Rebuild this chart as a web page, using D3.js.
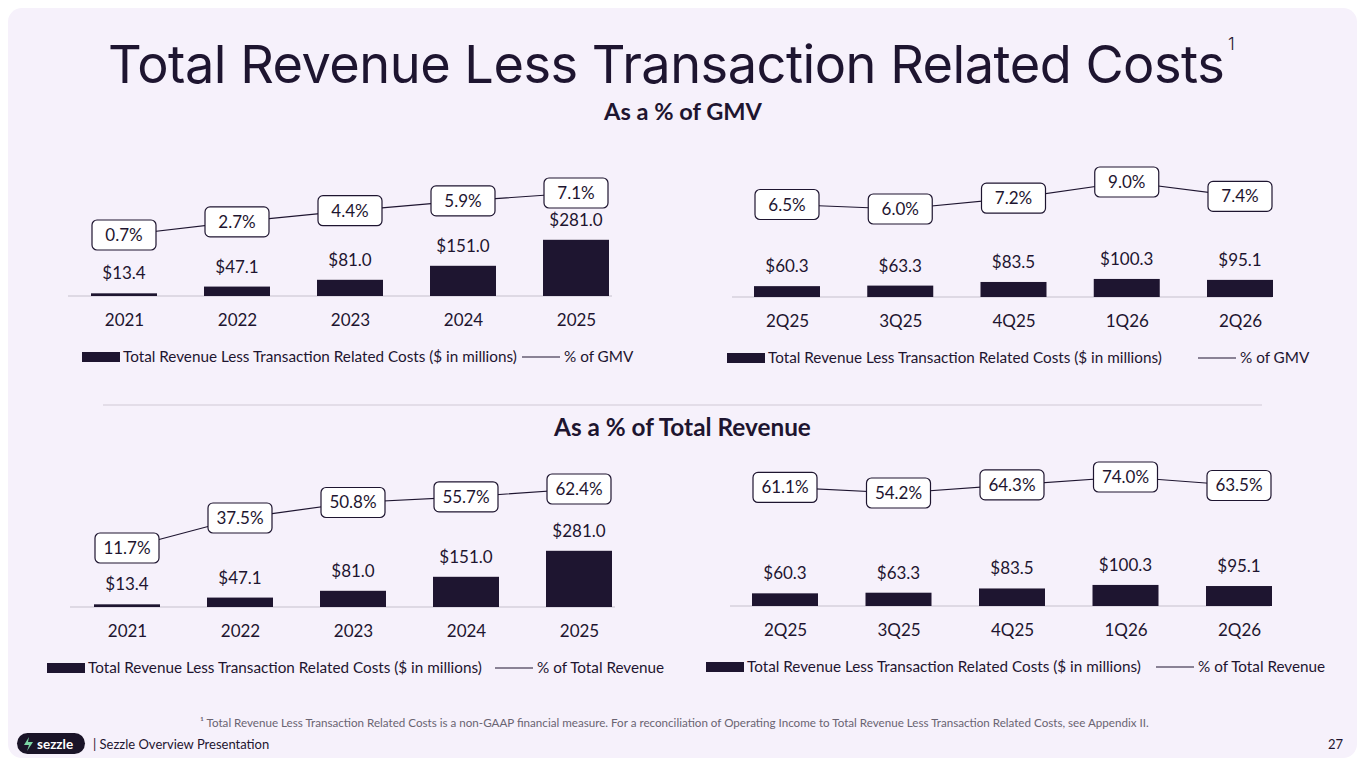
<!DOCTYPE html>
<html><head><meta charset="utf-8">
<script src="https://cdn.jsdelivr.net/npm/d3@7"></script>
<style>body{margin:0;background:#fff}svg{display:block;font-family:Lato,sans-serif}</style>
</head><body>
<svg id="c" width="1365" height="768"></svg>
<script>
const annualCats = ["2021","2022","2023","2024","2025"];
const annualVals = [13.4,47.1,81.0,151.0,281.0];
const annualPctGMV = [0.7,2.7,4.4,5.9,7.1];
const annualPctRev = [11.7,37.5,50.8,55.7,62.4];
const qCats = ["2Q25","3Q25","4Q25","1Q26","2Q26"];
const qVals = [60.3,63.3,83.5,100.3,95.1];
const qPctGMV = [6.5,6.0,7.2,9.0,7.4];
const qPctRev = [61.1,54.2,64.3,74.0,63.5];

const ink="#1e1530";
const svg=d3.select("#c");
svg.append("rect").attr("x",8).attr("y",8).attr("width",1349).attr("height",750).attr("rx",14).attr("fill","#f6f1fb");
const t=svg.append("text").attr("x",108).attr("y",83).attr("fill",ink).attr("font-family","Inter").attr("font-size",56).attr("letter-spacing",-0.5).text("Total Revenue Less Transaction Related Costs");
const tw=t.node().getComputedTextLength();
t.attr("font-size",56*1118/tw);
svg.append("text").attr("x",1228).attr("y",50).attr("fill",ink).attr("font-size",17).attr("font-weight",300).attr("font-family","Inter").text("1");
function txt(x,y,s,size,opt={}){return svg.append("text").attr("x",x).attr("y",y).attr("fill",opt.fill||ink).attr("font-size",size).attr("font-weight",opt.w||400).attr("text-anchor",opt.a||"start").text(s);}
function fit(sel,w){const l=sel.node().getComputedTextLength();sel.attr("font-size",parseFloat(sel.attr("font-size"))*w/l);return sel;}
fit(txt(604,120,"As a % of GMV",21,{w:700}),158);
fit(txt(554,436,"As a % of Total Revenue",21,{w:700}),257);
svg.append("line").attr("x1",103).attr("x2",1262).attr("y1",405).attr("y2",405).attr("stroke","#dcd6e2").attr("stroke-width",1.5);

function chart(o){
  const x=d3.scalePoint().domain(o.cats).range([o.c0,o.c1]);
  const y=d3.scaleLinear().domain([0,1]).range([o.base,o.base-o.k]);
  const yp=d3.scaleLinear().domain([o.p0,o.p1]).range([o.y0,o.y1]);
  const g=svg.append("g");
  g.append("line").attr("x1",o.ax0).attr("x2",o.ax1).attr("y1",o.base).attr("y2",o.base).attr("stroke","#d6d0dc").attr("stroke-width",1.5);
  g.selectAll(".b").data(o.vals).join("rect").attr("x",(d,i)=>x(o.cats[i])-33).attr("width",66)
   .attr("y",d=>y(d)).attr("height",d=>o.base-y(d)).attr("fill",ink);
  g.selectAll(".v").data(o.vals).join("text").attr("x",(d,i)=>x(o.cats[i])).attr("y",d=>y(d)-14)
   .attr("text-anchor","middle").attr("font-size",17).attr("fill",ink).text(d=>"$"+d.toFixed(1));
  const axis=d3.axisBottom(x).tickSize(0).tickPadding(0);
  const ag=g.append("g").attr("transform",`translate(0,${o.base+30})`).call(axis);
  ag.select(".domain").remove();
  ag.selectAll("text").attr("font-size",17).attr("fill",ink).attr("font-family","Lato").attr("dy",0);
  g.append("path").attr("d",d3.line().x((d,i)=>x(o.cats[i])).y(d=>yp(d))(o.pct)).attr("fill","none").attr("stroke",ink).attr("stroke-width",1.2);
  const lb=g.selectAll(".l").data(o.pct).join("g").attr("transform",(d,i)=>`translate(${x(o.cats[i])},${yp(d)})`);
  lb.append("rect").attr("x",-32).attr("y",-15).attr("width",64).attr("height",30).attr("rx",5).attr("fill","#fff").attr("stroke",ink).attr("stroke-width",1.2);
  lb.append("text").attr("text-anchor","middle").attr("y",6).attr("font-size",17).attr("fill",ink).text(d=>d.toFixed(1)+"%");
  const ly=o.base+61;
  g.append("rect").attr("x",o.lg0).attr("y",ly-5).attr("width",38).attr("height",10).attr("fill",ink);
  const lt=g.append("text").attr("x",o.lg0+41).attr("y",ly+5).attr("font-size",14.5).attr("fill",ink).text("Total Revenue Less Transaction Related Costs ($ in millions)");
  fit(lt,394);
  g.append("line").attr("x1",o.lg1).attr("x2",o.lg1+38).attr("y1",ly).attr("y2",ly).attr("stroke",ink).attr("stroke-width",1.2);
  g.append("text").attr("x",o.lg1+42).attr("y",ly+5).attr("font-size",lt.attr("font-size")).attr("fill",ink).text(o.ltxt);
}
chart({cats:annualCats,vals:annualVals,pct:annualPctGMV,c0:124,c1:576,base:296,k:0.2,ax0:68,ax1:612,p0:0.7,p1:7.1,y0:235,y1:193,lg0:82,lg1:522,ltxt:"% of GMV"});
chart({cats:qCats,vals:qVals,pct:qPctGMV,c0:787,c1:1240,base:297,k:0.18,ax0:732,ax1:1272,p0:6.0,p1:9.0,y0:209,y1:182,lg0:727,lg1:1198,ltxt:"% of GMV"});
chart({cats:annualCats,vals:annualVals,pct:annualPctRev,c0:127,c1:579,base:607,k:0.2,ax0:70,ax1:615,p0:11.7,p1:62.4,y0:548,y1:489,lg0:47,lg1:495,ltxt:"% of Total Revenue"});
chart({cats:qCats,vals:qVals,pct:qPctRev,c0:785,c1:1239,base:606,k:0.21,ax0:730,ax1:1270,p0:54.2,p1:74.0,y0:493,y1:477,lg0:706,lg1:1156,ltxt:"% of Total Revenue"});

fit(txt(200,727,"¹ Total Revenue Less Transaction Related Costs is a non-GAAP financial measure. For a reconciliation of Operating Income to Total Revenue Less Transaction Related Costs, see Appendix II.",10,{fill:"#6a6472"}),950);
svg.append("rect").attr("x",17).attr("y",733).attr("width",68).attr("height",21).attr("rx",10.5).attr("fill","#1a1428");
svg.append("path").attr("d","M29 737 L24 745 L29 745 L27 751 L33 742 L28 742 Z").attr("fill","#7bd6a4");
txt(37,749,"sezzle",13.5,{fill:"#fff",w:700});
txt(93,749,"|  Sezzle Overview Presentation",13);
txt(1343,749,"27",13,{a:"end"});
</script></body></html>
